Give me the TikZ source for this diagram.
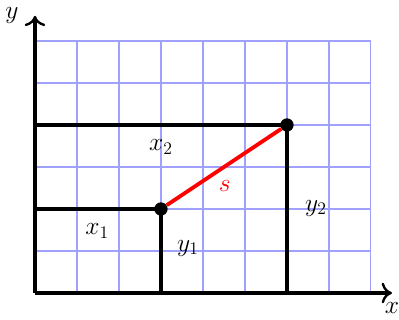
\documentclass[tikz,border=0pt]{standalone}
\usetikzlibrary{arrows.meta}
\definecolor{gridblue}{RGB}{160,160,255}
\begin{document}
\begin{tikzpicture}[x=1cm,y=1cm,font=\LARGE,
  axis/.style={line width=2.6pt,-{To[length=7pt,width=14pt,line width=1.6pt]}},
  bar/.style={line width=2.6pt},
  dot/.style={circle,fill=black,inner sep=0pt,minimum size=9pt}]
\useasboundingbox (-0.833,-0.643) rectangle (8.667,6.976);
\draw[draw=gridblue,line width=0.7pt] (0,0) grid (8,6);
\coordinate (O) at (0,0);
\coordinate (xend) at (8.5,0);
\coordinate (yend) at (0,6.6);
\draw[axis] (O) -- (xend);
\draw[axis] (O) -- (yend);
\node (xlab) at (8.5,-0.36) {$x$};
\node (ylab) at (-0.55,6.6) {$y$};
\node[dot] (P) at (3,2) {};
\node[dot] (Q) at (6,4) {};
\coordinate (P0) at (3,0);
\coordinate (Py) at (0,2);
\coordinate (Q0) at (6,0);
\coordinate (Qy) at (0,4);
\draw[bar] (Py) -- (P.center) -- (P0);
\draw[bar] (Qy) -- (Q.center) -- (Q0);
\draw[red,line width=2.6pt] (P) -- (Q);
\node (x1) at (1.48,1.48) {$x_1$};
\node (y1) at (3.64,1.07) {$y_1$};
\node (x2) at (3.0,3.48) {$x_2$};
\node (y2) at (6.69,2.02) {$y_2$};
\node[red] (s) at (4.52,2.55) {$s$};
\end{tikzpicture}
\end{document}
